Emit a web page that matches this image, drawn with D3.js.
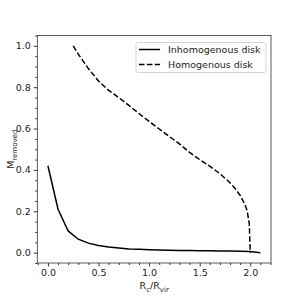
<!DOCTYPE html>
<html><head><meta charset="utf-8">
<script src="https://cdn.jsdelivr.net/npm/d3@7"></script>
<style>body{margin:0;background:#fff}svg{display:block}text{font-family:"DejaVu Sans",sans-serif}</style>
</head><body>
<script>
const inhomX = [0.0,0.1,0.2,0.3,0.4,0.5,0.6,0.7,0.8,0.9,1.0,1.1,1.2,1.3,1.4,1.5,1.6,1.7,1.8,1.9,2.0,2.1];
const inhomY = [0.42,0.21,0.105,0.065,0.046,0.035,0.027,0.022,0.018,0.016,0.014,0.013,0.012,0.011,0.010,0.009,0.009,0.008,0.008,0.007,0.006,0.0];
const homX = [0.25,0.3,0.4,0.5,0.6,0.7,0.8,0.9,1.0,1.1,1.2,1.3,1.4,1.5,1.6,1.7,1.8,1.85,1.9,1.95,1.97,1.99,2.0];
const homY = [1.0,0.96,0.89,0.83,0.785,0.75,0.712,0.673,0.635,0.598,0.562,0.526,0.485,0.45,0.418,0.382,0.338,0.31,0.277,0.23,0.2,0.14,0.0];
const xTicks = [0.0,0.5,1.0,1.5,2.0];
const yTicks = [0.0,0.2,0.4,0.6,0.8,1.0];
const seriesNames = ["Inhomogenous disk","Homogenous disk"];

const W=301,H=301;
const L=37.3,R=271,T=35.5,B=263;
const svg=d3.select("body").append("svg").attr("width",W).attr("height",H);
const x=d3.scaleLinear().domain([-0.105,2.205]).range([L,R]);
const y=d3.scaleLinear().domain([-0.05,1.05]).range([B,T]);

// minor ticks
const xMinor=d3.range(-1,23).map(i=>i/10).filter(v=>v>=-0.105&&v<=2.205&&Math.abs(v*2-Math.round(v*2))>1e-6);
const yMinor=d3.range(-1,22).map(i=>i/20).filter(v=>v>=-0.05&&v<=1.05&&Math.abs(v*5-Math.round(v*5))>1e-6);

const gx=svg.append("g").attr("transform",`translate(0,${B})`);
gx.call(d3.axisBottom(x).tickValues(xTicks).tickFormat(d3.format(".1f")).tickSize(3.5).tickPadding(3));
gx.append("g").call(d3.axisBottom(x).tickValues(xMinor).tickFormat("").tickSize(2));
const gy=svg.append("g").attr("transform",`translate(${L},0)`);
gy.call(d3.axisLeft(y).tickValues(yTicks).tickFormat(d3.format(".1f")).tickSize(3.5).tickPadding(3));
gy.append("g").call(d3.axisLeft(y).tickValues(yMinor).tickFormat("").tickSize(2));
svg.selectAll(".domain").remove();
svg.selectAll(".tick line").attr("stroke","#000").attr("stroke-width",0.8);
svg.selectAll(".tick text").attr("font-size",9.5).attr("fill","#222").attr("font-family","DejaVu Sans");

svg.append("rect").attr("x",L).attr("y",T).attr("width",R-L).attr("height",B-T)
  .attr("fill","none").attr("stroke","#333").attr("stroke-width",0.8);

const line=d3.line().x(d=>x(d[0])).y(d=>y(d[1]));
const clip=svg.append("clipPath").attr("id","c").append("rect").attr("x",L).attr("y",T).attr("width",R-L).attr("height",B-T);
svg.append("path").datum(inhomX.map((v,i)=>[v,inhomY[i]])).attr("d",line)
  .attr("fill","none").attr("stroke","#000").attr("stroke-width",1.5).attr("clip-path","url(#c)");
svg.append("path").datum(homX.map((v,i)=>[v,homY[i]])).attr("d",line)
  .attr("fill","none").attr("stroke","#000").attr("stroke-width",1.5).attr("stroke-dasharray","5.5,2.4").attr("clip-path","url(#c)");

// legend
const lg=svg.append("g");
lg.append("rect").attr("x",136).attr("y",42.5).attr("width",130).attr("height",30).attr("rx",2)
  .attr("fill","#fff").attr("fill-opacity",0.8).attr("stroke","#ccc").attr("stroke-width",0.8);
[0,1].forEach(i=>{
  const yy=49.5+i*15;
  lg.append("line").attr("x1",139).attr("x2",160).attr("y1",yy).attr("y2",yy)
    .attr("stroke","#000").attr("stroke-width",1.5).attr("stroke-dasharray",i?"5.5,2.4":null);
  lg.append("text").attr("x",168).attr("y",yy).attr("dy","0.35em").attr("font-size",9.5).attr("fill","#222").text(seriesNames[i]);
});

// axis labels
const xl=svg.append("text").attr("x",(L+R)/2).attr("y",289).attr("text-anchor","middle").attr("font-size",9.5).attr("fill","#222");
xl.append("tspan").text("R");
xl.append("tspan").attr("dy",2.5).attr("font-size",7).text("c");
xl.append("tspan").attr("dy",-2.5).text("/R");
xl.append("tspan").attr("dy",2.5).attr("font-size",7).text("vir");
const yl=svg.append("text").attr("transform",`translate(14,${(T+B)/2}) rotate(-90)`).attr("text-anchor","middle").attr("font-size",9.5).attr("fill","#222");
yl.append("tspan").text("M");
yl.append("tspan").attr("dy",2.5).attr("font-size",7).text("removed");
</script>
</body></html>
